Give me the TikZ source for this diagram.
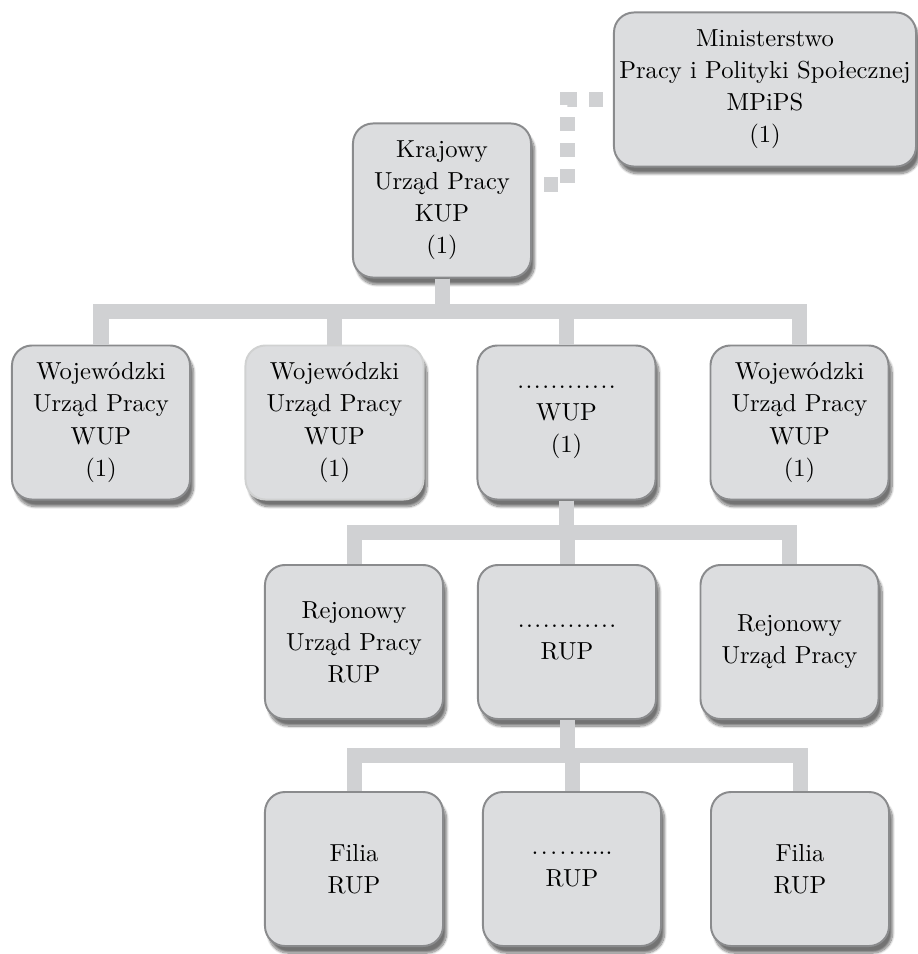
\documentclass[tikz,border=0pt]{standalone}
\usepackage{fontspec}
\setmainfont{lmroman10-regular.otf}
\usetikzlibrary{calc,shadows.blur}
\definecolor{BoxClr}{HTML}{DCDDDF}
\definecolor{EdgeClr}{HTML}{8A8B8D}
\definecolor{LinkClr}{HTML}{D0D1D3}

\begin{document}
\begin{tikzpicture}[x=0.025cm,y=-0.025cm,
  unit/.style={draw=EdgeClr,fill=BoxClr,line width=1.4pt,rounded corners=0.5cm,
    minimum width=4.45cm,minimum height=3.85cm,align=center,inner sep=2pt,
    font=\fontsize{17.5}{22.8}\selectfont,
    blur shadow={shadow xshift=2.5pt,shadow yshift=-5pt,shadow blur steps=12,shadow opacity=55}},
  link/.style={draw=LinkClr,line width=0.375cm},
  linkdash/.style={link,dash pattern=on 0.35cm off 0.3cm,dash phase=0.35cm}]
\useasboundingbox (0,0) rectangle (918,954);

\node[unit,minimum width=7.55cm] (mpips) at (765,89.5) {Ministerstwo\\Pracy i Polityki Społecznej\\MPiPS\\(1)};
\node[unit] (kup) at (442,200.5) {Krajowy\\Urząd Pracy\\KUP\\(1)};

\node[unit] (wup1) at (101,422.5) {Wojewódzki\\Urząd Pracy\\WUP\\(1)};
\node[unit,draw=EdgeClr!40] (wup2) at (334.5,422.5) {Wojewódzki\\Urząd Pracy\\WUP\\(1)};
\node[unit] (wup3) at (566.5,422.5) {{\addfontfeatures{LetterSpace=6}............}\\WUP\\(1)};
\node[unit] (wup4) at (799.5,422.5) {Wojewódzki\\Urząd Pracy\\WUP\\(1)};

\node[unit] (rup1) at (354,642) {Rejonowy\\Urząd Pracy\\RUP};
\node[unit] (rup2) at (567,642) {{\addfontfeatures{LetterSpace=6}............}\\RUP};
\node[unit] (rup3) at (789.5,642) {Rejonowy\\Urząd Pracy};

\node[unit] (fil1) at (354,869) {Filia\\RUP};
\node[unit] (fil2) at (572,869) {{\addfontfeatures{LetterSpace=10}......}....\\RUP};
\node[unit] (fil3) at (800,869) {Filia\\RUP};

\draw[linkdash] ([yshift=0.39cm]kup.east) -| ([xshift=-1.125cm,yshift=-0.26cm]mpips.west) -- ([yshift=-0.26cm]mpips.west);

\foreach \c in {wup1,wup2,wup3,wup4}
  \draw[link] (kup.south) |- ($(kup.south)!.5!(\c.north)$) -| (\c.north);
\foreach \c in {rup1,rup2,rup3}
  \draw[link] (wup3.south) |- ($(wup3.south)!.5!(\c.north)$) -| (\c.north);
\foreach \c in {fil1,fil2,fil3}
  \draw[link] (rup2.south) |- ($(rup2.south)!.5!(\c.north)$) -| (\c.north);

\end{tikzpicture}
\end{document}
